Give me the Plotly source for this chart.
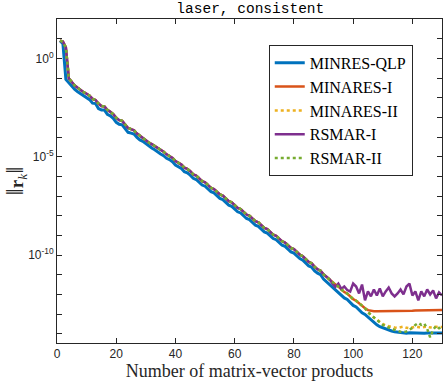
"""Residual norm history for the consistent 'laser' problem."""

import numpy as np
import plotly.graph_objects as go

# log10 of ||r_k||, k = 1..130
iters = list(range(1, 131))

qlp_log10 = [
    0.90, 0.75, -1.07, -1.25, -1.42, -1.58, -1.70, -1.80, -1.92, -1.98,
    -2.10, -2.28, -2.30, -2.55, -2.62, -2.62, -2.85, -2.92, -3.05, -3.25,
    -3.35, -3.38, -3.60, -3.76, -3.80, -3.85, -4.02, -4.15, -4.22, -4.35,
    -4.48, -4.56, -4.65, -4.78, -4.86, -4.95, -5.08, -5.15, -5.26, -5.42,
    -5.50, -5.60, -5.76, -5.82, -5.94, -6.10, -6.16, -6.28, -6.44, -6.50,
    -6.62, -6.78, -6.84, -6.96, -7.12, -7.18, -7.30, -7.46, -7.52, -7.64,
    -7.80, -7.86, -7.98, -8.14, -8.20, -8.32, -8.48, -8.54, -8.66, -8.82,
    -8.88, -9.00, -9.16, -9.22, -9.34, -9.50, -9.56, -9.68, -9.84, -9.90,
    -10.06, -10.18, -10.26, -10.42, -10.55, -10.62, -10.80, -10.92, -11.00, -11.22,
    -11.36, -11.46, -11.62, -11.78, -11.88, -12.02, -12.18, -12.26, -12.40, -12.56,
    -12.64, -12.78, -12.94, -13.02, -13.16, -13.32, -13.42, -13.55, -13.64, -13.70,
    -13.78, -13.84, -13.86, -13.90, -13.92, -13.95, -13.96, -13.97, -13.95, -13.96,
    -13.97, -13.96, -13.96, -13.97, -13.96, -13.96, -13.97, -13.96, -13.96, -13.96,
]

# the other four methods coincide for k = 1..92
shared_head_log10 = [
    0.90, 0.85, 0.55, -1.02, -1.20, -1.38, -1.50, -1.62, -1.72, -1.80,
    -1.90, -2.06, -2.12, -2.30, -2.42, -2.44, -2.62, -2.72, -2.84, -3.02,
    -3.14, -3.18, -3.38, -3.54, -3.60, -3.66, -3.82, -3.94, -4.02, -4.14,
    -4.28, -4.36, -4.45, -4.58, -4.66, -4.75, -4.88, -4.95, -5.06, -5.22,
    -5.30, -5.40, -5.56, -5.62, -5.74, -5.90, -5.96, -6.08, -6.24, -6.30,
    -6.42, -6.58, -6.64, -6.76, -6.92, -6.98, -7.10, -7.26, -7.32, -7.44,
    -7.60, -7.66, -7.78, -7.94, -8.00, -8.12, -8.28, -8.34, -8.46, -8.62,
    -8.68, -8.80, -8.96, -9.02, -9.14, -9.30, -9.36, -9.48, -9.64, -9.70,
    -9.86, -9.98, -10.06, -10.22, -10.35, -10.42, -10.60, -10.72, -10.80, -10.98,
    -11.12, -11.22,
]

# k = 93..130
minares1_tail = [
    -11.38, -11.50, -11.60, -11.75, -11.88, -11.96, -12.10, -12.24, -12.32, -12.46,
    -12.60, -12.70, -12.80, -12.85, -12.86, -12.86, -12.86, -12.86, -12.85, -12.85,
    -12.85, -12.85, -12.84, -12.84, -12.84, -12.83, -12.83, -12.83, -12.82, -12.82,
    -12.82, -12.81, -12.81, -12.81, -12.80, -12.80, -12.80, -12.79,
]
minares2_tail = [
    -11.38, -11.50, -11.60, -11.75, -11.88, -11.96, -12.10, -12.24, -12.32, -12.46,
    -12.60, -12.70, -12.90, -13.05, -13.18, -13.28, -13.40, -13.50, -13.58, -13.62,
    -13.66, -13.68, -13.70, -13.66, -13.64, -13.70, -13.72, -13.68, -13.64, -13.66,
    -13.70, -13.66, -13.64, -13.68, -13.66, -13.64, -13.66, -13.66,
]
rsmar1_tail = [
    -11.44, -11.62, -11.45, -11.72, -11.60, -11.78, -11.85, -11.45, -11.60, -11.95,
    -11.50, -12.30, -11.85, -12.10, -11.75, -12.05, -11.70, -12.10, -11.85, -11.65,
    -11.95, -12.10, -11.95, -11.75, -12.00, -11.60, -11.45, -12.05, -11.85, -12.30,
    -11.85, -12.10, -11.75, -12.00, -11.80, -12.20, -11.90, -12.05,
]
rsmar2_tail = [
    -11.38, -11.50, -11.60, -11.75, -11.88, -11.96, -12.10, -12.24, -12.32, -12.46,
    -12.60, -12.70, -12.90, -13.05, -13.18, -13.30, -13.42, -13.55, -13.62, -13.70,
    -13.75, -13.80, -13.86, -13.90, -13.92, -13.88, -13.80, -13.70, -13.55, -13.45,
    -13.55, -13.48, -13.75, -14.18, -13.80, -13.60, -13.72, -13.65,
]

series = [
    ("MINRES-QLP", qlp_log10, "#0072BD", "solid", 3),
    ("MINARES-I", shared_head_log10 + minares1_tail, "#D95319", "solid", 2.5),
    ("MINARES-II", shared_head_log10 + minares2_tail, "#EDB120", "dot", 2.5),
    ("RSMAR-I", shared_head_log10 + rsmar1_tail, "#7E2F8E", "solid", 2.5),
    ("RSMAR-II", shared_head_log10 + rsmar2_tail, "#77AC30", "dot", 2.5),
]

x_ticks = [0, 20, 40, 60, 80, 100, 120]
y_major = [0, -5, -10]
y_major_text = ["10<sup>0</sup>", "10<sup>-5</sup>", "10<sup>-10</sup>"]
y_minor = list(range(-14, 3))

fig = go.Figure()
for name, logs, color, dash, width in series:
    fig.add_trace(
        go.Scatter(
            x=iters,
            y=(10.0 ** np.array(logs)).tolist(),
            mode="lines",
            name=name,
            line={"color": color, "dash": dash, "width": width},
        )
    )

axis_common = {
    "showline": True,
    "linecolor": "#262626",
    "linewidth": 1,
    "mirror": "allticks",
    "ticks": "inside",
    "ticklen": 5,
    "tickcolor": "#262626",
    "showgrid": False,
    "zeroline": False,
    "tickfont": {"family": "Liberation Sans", "size": 12, "color": "#262626"},
}

bar = "<span style='font-size:26px'>‖</span>"

fig.update_layout(
    width=445,
    height=382,
    margin={"l": 57, "r": 3, "t": 19, "b": 39},
    paper_bgcolor="white",
    plot_bgcolor="white",
    title={
        "text": "laser, consistent",
        "font": {"family": "Liberation Mono", "size": 14.5, "color": "black"},
        "x": 0.5625,
        "xanchor": "center",
        "y": 0.979,
        "yanchor": "middle",
    },
    xaxis={
        **axis_common,
        "range": [0, 130],
        "tickvals": x_ticks,
        "title": {
            "text": "Number of matrix-vector products",
            "font": {"family": "Liberation Serif", "size": 18, "color": "#262626"},
            "standoff": 3,
        },
    },
    yaxis={
        **axis_common,
        "type": "log",
        "range": [-14.47, 2],
        "tickvals": [10.0 ** d for d in y_major],
        "ticktext": y_major_text,
        "minor": {
            "tickvals": [10.0 ** d for d in y_minor],
            "ticks": "inside",
            "ticklen": 5,
            "tickcolor": "#262626",
            "showgrid": False,
        },
        "title": {
            "text": f"{bar}<b>r</b><sub><i>k</i></sub>{bar}",
            "font": {"family": "Liberation Serif", "size": 19, "color": "#262626"},
            "standoff": 6,
        },
    },
    legend={
        "x": 0.55,
        "y": 0.92,
        "xanchor": "left",
        "yanchor": "top",
        "bgcolor": "white",
        "bordercolor": "#262626",
        "borderwidth": 1,
        "font": {"family": "Liberation Serif", "size": 16, "color": "black"},
        "itemwidth": 30,
        "tracegroupgap": 0,
    },
)

fig.write_html(
    "out.html",
    config={"displayModeBar": False},
    post_script="document.body.style.margin = '0px';",
)
